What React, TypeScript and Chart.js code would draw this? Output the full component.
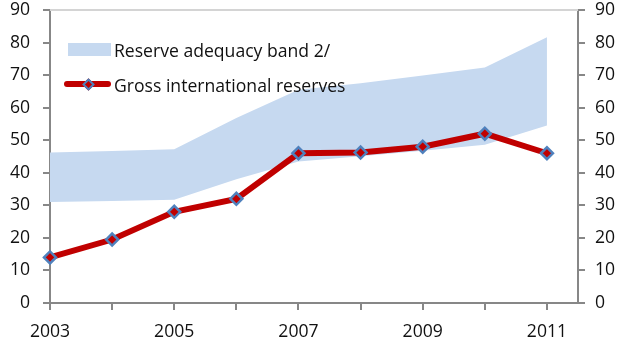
import React, { useEffect, useRef } from "react";
import { Chart, registerables } from "chart.js";

Chart.register(...registerables);

// Years on the horizontal axis
const years = [2003, 2004, 2005, 2006, 2007, 2008, 2009, 2010, 2011];
// Gross international reserves
const reserves = [14, 19.5, 28, 32, 46, 46.2, 48, 52, 46];
// Reserve adequacy band (lower and upper edges)
const bandLow = [31, 31.3, 31.7, 38, 43.5, 45.1, 46.8, 48.6, 54.5];
const bandHigh = [46.2, 46.7, 47.2, 56.8, 65.5, 67.5, 69.9, 72.3, 81.6];
// Axis tick values
const yTicks = [0, 10, 20, 30, 40, 50, 60, 70, 80, 90];
const xLabelYears = [2003, 2005, 2007, 2009, 2011];

const legendLabels = ["Reserve adequacy band 2/", "Gross international reserves"];

const RED = "#c00000";
const BLUE_EDGE = "#4f81bd";
const BAND = "#c6d9f0";
const AXIS = "#878787";
const FONT = "'Open Sans', sans-serif";
const FONT_SIZE = 17.6;

const topBorder = {
  id: "topBorder",
  afterDraw(chart: any) {
    const { ctx, chartArea } = chart;
    ctx.save();
    ctx.strokeStyle = "#d4d4d4";
    ctx.lineWidth = 2;
    ctx.beginPath();
    ctx.moveTo(chartArea.left, chartArea.top);
    ctx.lineTo(chartArea.right, chartArea.top);
    ctx.stroke();
    ctx.restore();
  },
};

export default function App() {
  const canvasRef = useRef<HTMLCanvasElement | null>(null);

  useEffect(() => {
    if (!canvasRef.current) return;
    const pts = (vals: number[]) => years.map((x, i) => ({ x, y: vals[i] }));
    const tickFont = { family: FONT, size: FONT_SIZE };
    const yScale = (position: "left" | "right", width: number, padding: number) => ({
      type: "linear" as const,
      position,
      min: 0,
      max: 90,
      afterBuildTicks: (s: any) => {
        s.ticks = yTicks.map((v) => ({ value: v }));
      },
      afterFit: (s: any) => {
        s.width = width;
        s.paddingTop = 10;
        s.paddingBottom = 0;
      },
      ticks: { font: tickFont, color: "#111", padding },
      grid: { drawOnChartArea: false, color: AXIS, lineWidth: 2, tickLength: 7 },
      border: { color: AXIS, width: 2 },
    });

    const chart = new Chart(canvasRef.current, {
      type: "line",
      data: {
        datasets: [
          {
            label: legendLabels[1],
            data: pts(reserves),
            borderColor: RED,
            borderWidth: 6,
            pointStyle: "rectRot",
            pointRadius: 6,
            pointBackgroundColor: RED,
            pointBorderColor: BLUE_EDGE,
            pointBorderWidth: 2.5,
            fill: false,
            clip: false,
            yAxisID: "y",
          },
          {
            label: "band low",
            data: pts(bandLow),
            borderWidth: 0,
            pointRadius: 0,
            fill: false,
            yAxisID: "y",
          },
          {
            label: legendLabels[0],
            data: pts(bandHigh),
            borderWidth: 0,
            pointRadius: 0,
            backgroundColor: BAND,
            fill: "-1",
            yAxisID: "y",
          },
        ],
      },
      options: {
        responsive: false,
        animation: false,
        layout: { padding: 0 },
        plugins: { legend: { display: false }, tooltip: { enabled: false } },
        scales: {
          x: {
            type: "linear",
            min: 2003,
            max: 2011.5,
            afterBuildTicks: (s: any) => {
              s.ticks = years.map((v) => ({ value: v }));
            },
            afterFit: (s: any) => {
              s.height = 40;
            },
            ticks: {
              font: tickFont,
              color: "#111",
              padding: 11,
              maxRotation: 0,
              autoSkip: false,
              callback: (v: any) => (xLabelYears.includes(Number(v)) ? String(v) : ""),
            },
            grid: { drawOnChartArea: false, color: AXIS, lineWidth: 2, tickLength: 7 },
            border: { color: AXIS, width: 2 },
          },
          y: yScale("left", 50, 13),
          y2: yScale("right", 55, 10),
        },
      },
      plugins: [topBorder],
    });
    return () => chart.destroy();
  }, []);

  const textStyle: React.CSSProperties = {
    position: "absolute",
    left: 114,
    fontFamily: FONT,
    fontSize: FONT_SIZE,
    color: "#111",
    lineHeight: "20px",
    whiteSpace: "nowrap",
  };

  return (
    <div style={{ position: "fixed", left: 0, top: 0, width: 633, height: 343, background: "#fff" }}>
      <canvas ref={canvasRef} width={633} height={343} style={{ width: 633, height: 343 }} />
      <div style={{ position: "absolute", left: 68, top: 43, width: 43, height: 13, background: BAND }} />
      <div style={{ ...textStyle, top: 40 }}>{legendLabels[0]}</div>
      <div
        style={{ position: "absolute", left: 64, top: 81, width: 47, height: 6, background: RED, borderRadius: 3 }}
      />
      <div
        style={{
          position: "absolute",
          left: 83.5,
          top: 79.5,
          width: 5,
          height: 5,
          background: RED,
          border: `2px solid ${BLUE_EDGE}`,
          transform: "rotate(45deg)",
        }}
      />
      <div style={{ ...textStyle, top: 75 }}>{legendLabels[1]}</div>
    </div>
  );
}
